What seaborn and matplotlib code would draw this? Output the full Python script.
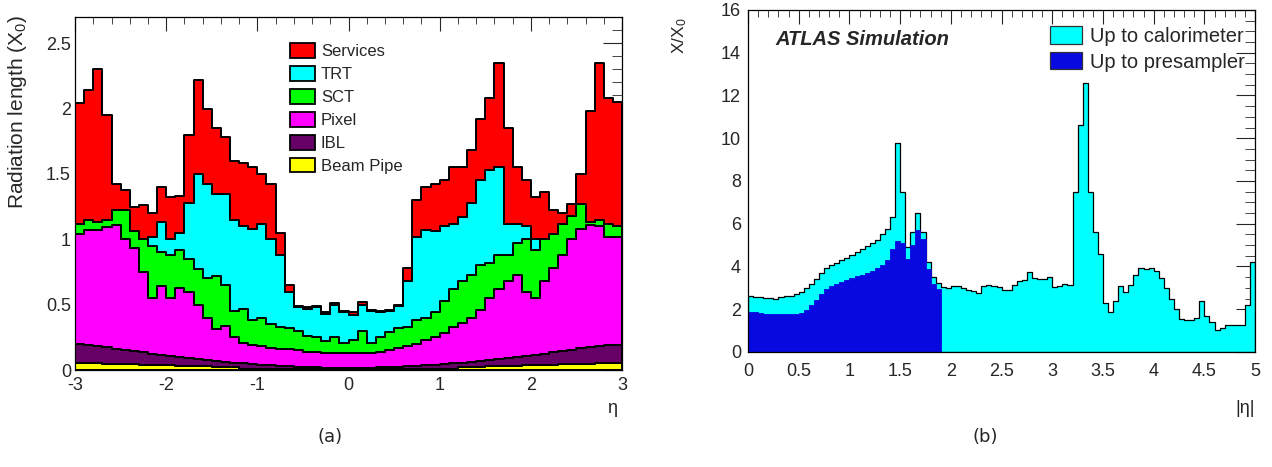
import numpy as np
import pandas as pd
import matplotlib
matplotlib.use("Agg")
import matplotlib.pyplot as plt
from matplotlib.patches import Patch
from matplotlib.ticker import MultipleLocator
import seaborn as sns

# ---------------- Panel (a): material up to ID boundary, stacked by component
eta_min_a, eta_max_a, nbins_a = -3.0, 3.0, 60
components = ["Services", "TRT", "SCT", "Pixel", "IBL", "Beam Pipe"]
component_colors = ["#FF0000", "#00FFFF", "#00FF00", "#FF00FF", "#660066", "#FFFF00"]

# cumulative upper edge of each layer, radiation length X0
services_top = [2.04, 2.14, 2.30, 1.95, 1.42, 1.38, 1.25, 1.26, 1.20, 1.40,
                1.32, 1.33, 1.80, 2.22, 2.00, 1.85, 1.78, 1.60, 1.58, 1.55,
                1.50, 1.42, 1.05, 0.65, 0.49, 0.48, 0.49, 0.44, 0.51, 0.45,
                0.44, 0.52, 0.46, 0.45, 0.46, 0.50, 0.78, 1.30, 1.40, 1.42,
                1.45, 1.55, 1.55, 1.68, 1.92, 2.08, 2.35, 1.85, 1.55, 1.45,
                1.32, 1.35, 1.22, 1.20, 1.27, 1.50, 1.98, 2.35, 2.08, 2.05]
trt_top = [1.12, 1.15, 1.13, 1.15, 1.22, 1.22, 1.06, 1.00, 1.02, 1.13,
           1.00, 1.05, 1.28, 1.50, 1.42, 1.35, 1.35, 1.15, 1.10, 1.08,
           1.12, 1.00, 0.88, 0.60, 0.48, 0.47, 0.48, 0.43, 0.50, 0.44,
           0.42, 0.50, 0.45, 0.44, 0.45, 0.49, 0.68, 1.02, 1.07, 1.06,
           1.10, 1.12, 1.17, 1.28, 1.45, 1.53, 1.55, 1.12, 1.12, 1.10,
           1.00, 0.99, 1.04, 1.12, 1.18, 1.27, 1.13, 1.15, 1.12, 1.10]
sct_top = [1.12, 1.15, 1.13, 1.15, 1.22, 1.22, 1.06, 1.00, 0.95, 0.90,
           0.88, 0.92, 0.85, 0.77, 0.70, 0.72, 0.65, 0.45, 0.47, 0.38,
           0.40, 0.35, 0.33, 0.32, 0.30, 0.26, 0.25, 0.22, 0.25, 0.21,
           0.23, 0.30, 0.21, 0.25, 0.29, 0.32, 0.33, 0.38, 0.40, 0.44,
           0.53, 0.62, 0.68, 0.73, 0.80, 0.82, 0.88, 0.88, 0.97, 1.00,
           0.92, 1.00, 1.04, 1.12, 1.18, 1.27, 1.13, 1.15, 1.12, 1.10]
pixel_top = [1.04, 1.07, 1.07, 1.09, 1.11, 1.00, 0.93, 0.75, 0.55, 0.64,
             0.55, 0.63, 0.60, 0.50, 0.40, 0.31, 0.34, 0.25, 0.21, 0.19,
             0.18, 0.17, 0.16, 0.16, 0.15, 0.14, 0.14, 0.13, 0.13, 0.13,
             0.13, 0.13, 0.13, 0.14, 0.15, 0.17, 0.18, 0.20, 0.23, 0.25,
             0.28, 0.33, 0.36, 0.40, 0.46, 0.55, 0.62, 0.68, 0.73, 0.60,
             0.55, 0.68, 0.78, 0.88, 1.00, 1.08, 1.11, 1.10, 1.02, 1.02]
ibl_top = [0.200, 0.190, 0.182, 0.173, 0.164, 0.155, 0.145, 0.135, 0.125, 0.115,
           0.105, 0.097, 0.090, 0.082, 0.075, 0.068, 0.062, 0.056, 0.050, 0.045,
           0.040, 0.036, 0.032, 0.028, 0.025, 0.022, 0.020, 0.018, 0.017, 0.016,
           0.016, 0.017, 0.018, 0.020, 0.022, 0.025, 0.028, 0.032, 0.036, 0.040,
           0.045, 0.050, 0.056, 0.062, 0.068, 0.075, 0.082, 0.090, 0.097, 0.105,
           0.115, 0.125, 0.135, 0.145, 0.155, 0.165, 0.175, 0.185, 0.195, 0.190]
beampipe_top = [0.055, 0.053, 0.051, 0.049, 0.047, 0.045, 0.043, 0.041, 0.039, 0.037,
                0.035, 0.033, 0.031, 0.029, 0.027, 0.025, 0.023, 0.021, 0.006, 0.006,
                0.006, 0.006, 0.006, 0.006, 0.006, 0.006, 0.006, 0.006, 0.006, 0.006,
                0.006, 0.006, 0.006, 0.006, 0.006, 0.006, 0.006, 0.006, 0.006, 0.006,
                0.006, 0.006, 0.021, 0.023, 0.025, 0.027, 0.029, 0.031, 0.033, 0.035,
                0.037, 0.039, 0.041, 0.043, 0.045, 0.047, 0.049, 0.051, 0.053, 0.055]

# ---------------- Panel (b): material in front of the EM calorimeter vs |eta|
eta_min_b, eta_max_b, nbins_b = 0.0, 5.0, 100
calorimeter = [2.60, 2.58, 2.55, 2.54, 2.53, 2.50, 2.58, 2.60, 2.64, 2.70,
               2.80, 3.00, 3.20, 3.42, 3.70, 3.95, 4.07, 4.15, 4.28, 4.40,
               4.56, 4.70, 4.83, 4.95, 5.08, 5.26, 5.50, 5.75, 6.30, 9.80,
               7.50, 4.90, 5.60, 6.50, 5.60, 4.20, 3.50, 3.25, 3.05, 3.00,
               3.07, 3.07, 3.00, 2.92, 2.85, 2.75, 3.08, 3.12, 3.10, 3.05,
               2.90, 2.88, 3.15, 3.30, 3.35, 3.75, 3.45, 3.42, 3.40, 3.50,
               3.05, 3.10, 3.18, 3.15, 7.50, 10.6, 12.6, 7.50, 5.60, 4.60,
               2.30, 1.88, 2.40, 3.10, 2.80, 3.15, 3.60, 3.95, 3.90, 3.92,
               3.80, 3.45, 3.00, 2.50, 2.00, 1.55, 1.50, 1.50, 1.60, 2.40,
               1.70, 1.40, 1.05, 1.12, 1.25, 1.27, 1.25, 1.27, 2.20, 4.20]
presampler = [1.85, 1.85, 1.84, 1.78, 1.77, 1.77, 1.77, 1.78, 1.78, 1.80,
              1.84, 1.95, 2.20, 2.45, 2.70, 2.93, 3.10, 3.20, 3.27, 3.38,
              3.47, 3.55, 3.62, 3.68, 3.80, 3.95, 4.08, 4.30, 4.80, 5.20,
              5.10, 4.35, 5.00, 5.70, 5.30, 3.90, 3.20, 2.95]

# ---------------- style
sns.set_style("white")
plt.rcParams["font.family"] = ["Liberation Sans", "DejaVu Sans"]
plt.rcParams["mathtext.fontset"] = "custom"
plt.rcParams["mathtext.rm"] = "Liberation Sans"
plt.rcParams["mathtext.it"] = "Liberation Sans:italic"

fig = plt.figure(figsize=(12.72, 4.67), dpi=100)
axL = fig.add_axes([0.0590, 0.2077, 0.4300, 0.7559])
axR = fig.add_axes([0.5881, 0.2463, 0.3986, 0.7323])

# ---------------- panel (a)
edges_a = np.linspace(eta_min_a, eta_max_a, nbins_a + 1)
centers_a = 0.5 * (edges_a[:-1] + edges_a[1:])
levels = [np.array(v) for v in (services_top, trt_top, sct_top, pixel_top,
                                  ibl_top, beampipe_top)] + [np.zeros(nbins_a)]
frames = []
for i, name in enumerate(components):
    contrib = np.clip(levels[i] - levels[i + 1], 0, None)
    frames.append(pd.DataFrame({"eta": centers_a, "component": name, "X0": contrib}))
df_a = pd.concat(frames, ignore_index=True)
palette = dict(zip(components, component_colors))

sns.histplot(data=df_a, x="eta", weights="X0", hue="component", hue_order=components,
             palette=palette, multiple="stack", bins=edges_a.tolist(), element="step",
             fill=True, alpha=1, edgecolor="black", linewidth=1.4, legend=False, ax=axL)

axL.set_xlim(-3, 3)
axL.set_ylim(0, 2.7)
axL.set_xlabel("")
axL.set_ylabel("")
axL.set_xticks([-3, -2, -1, 0, 1, 2, 3])
axL.set_xticklabels(["-3", "-2", "-1", "0", "1", "2", "3"])
axL.xaxis.set_minor_locator(MultipleLocator(0.2))
axL.set_yticks([0, 0.5, 1, 1.5, 2, 2.5])
axL.set_yticklabels(["0", "0.5", "1", "1.5", "2", "2.5"])
axL.yaxis.set_minor_locator(MultipleLocator(0.1))
axL.tick_params(which="both", direction="in", top=True, right=True, labelsize=13)
axL.tick_params(axis="y", which="major", length=14, pad=3)
axL.tick_params(axis="y", which="minor", length=7)
axL.tick_params(axis="x", which="major", length=10, pad=5)
axL.tick_params(axis="x", which="minor", length=5)
for s in axL.spines.values():
    s.set_linewidth(0.9)
    s.set_color("black")

handles = [Patch(facecolor=c, edgecolor="black", linewidth=1.3, label=n)
           for n, c in zip(components, component_colors)]
axL.legend(handles=handles, loc="upper left", bbox_to_anchor=(0.393, 0.925),
           frameon=False, fontsize=12, handlelength=1.5, handleheight=0.95,
           handletextpad=0.35, labelspacing=0.42, borderpad=0, borderaxespad=0)

# ---------------- panel (b)
edges_b = np.linspace(eta_min_b, eta_max_b, nbins_b + 1)
centers_b = 0.5 * (edges_b[:-1] + edges_b[1:])
n_pre = len(presampler)
df_calo = pd.DataFrame({"abseta": centers_b, "X": calorimeter})
df_pre = pd.DataFrame({"abseta": centers_b[:n_pre], "X": presampler})

sns.histplot(data=df_calo, x="abseta", weights="X", bins=edges_b.tolist(),
             element="step", fill=True, color="#00FFFF", alpha=1,
             edgecolor="black", linewidth=0.9, ax=axR)
sns.histplot(data=df_pre, x="abseta", weights="X", bins=edges_b[:n_pre + 1].tolist(),
             element="step", fill=True, color="#0808E0", alpha=1,
             edgecolor="#0808E0", linewidth=0.6, ax=axR)

axR.set_xlim(0, 5)
axR.set_ylim(0, 16)
axR.set_xlabel("")
axR.set_ylabel("")
axR.set_xticks([0, 0.5, 1, 1.5, 2, 2.5, 3, 3.5, 4, 4.5, 5])
axR.set_xticklabels(["0", "0.5", "1", "1.5", "2", "2.5", "3", "3.5", "4", "4.5", "5"])
axR.xaxis.set_minor_locator(MultipleLocator(0.1))
axR.set_yticks([0, 2, 4, 6, 8, 10, 12, 14, 16])
axR.set_yticklabels(["0", "2", "4", "6", "8", "10", "12", "14", "16"])
axR.yaxis.set_minor_locator(MultipleLocator(0.5))
axR.tick_params(which="both", direction="in", top=True, right=True, labelsize=13)
axR.tick_params(axis="y", which="major", length=14, pad=5)
axR.tick_params(axis="y", which="minor", length=7)
axR.tick_params(axis="x", which="major", length=10, pad=8)
axR.tick_params(axis="x", which="minor", length=5)
for s in axR.spines.values():
    s.set_linewidth(0.9)
    s.set_color("black")

handles_b = [Patch(facecolor="#00FFFF", edgecolor="#333333", linewidth=0.9,
                   label="Up to calorimeter"),
             Patch(facecolor="#0808E0", edgecolor="#333333", linewidth=0.9,
                   label="Up to presampler")]
axR.legend(handles=handles_b, loc="upper left", bbox_to_anchor=(0.596, 0.952),
           frameon=False, fontsize=14.5, handlelength=1.6, handleheight=0.95,
           handletextpad=0.35, labelspacing=0.3, borderpad=0, borderaxespad=0)

axR.text(0.053, 0.915, "ATLAS Simulation", transform=axR.transAxes,
         fontsize=14.5, fontweight="bold", fontstyle="italic",
         ha="left", va="center")

# ---------------- axis titles and captions
fig.text(0.014, 0.967, "Radiation length (X$_0$)", rotation=90,
         ha="center", va="top", fontsize=15)
fig.text(0.481, 0.126, "η", ha="center", va="center", fontsize=13)
fig.text(0.5346, 0.962, "X/X$_0$", rotation=90, ha="center", va="top", fontsize=12.5)
fig.text(0.979, 0.126, "|η|", ha="center", va="center", fontsize=13)
fig.text(0.2594, 0.064, "(a)", ha="center", va="center", fontsize=13,
         family="DejaVu Sans")
fig.text(0.7744, 0.064, "(b)", ha="center", va="center", fontsize=13,
         family="DejaVu Sans")

fig.savefig("out.png", dpi=100)
